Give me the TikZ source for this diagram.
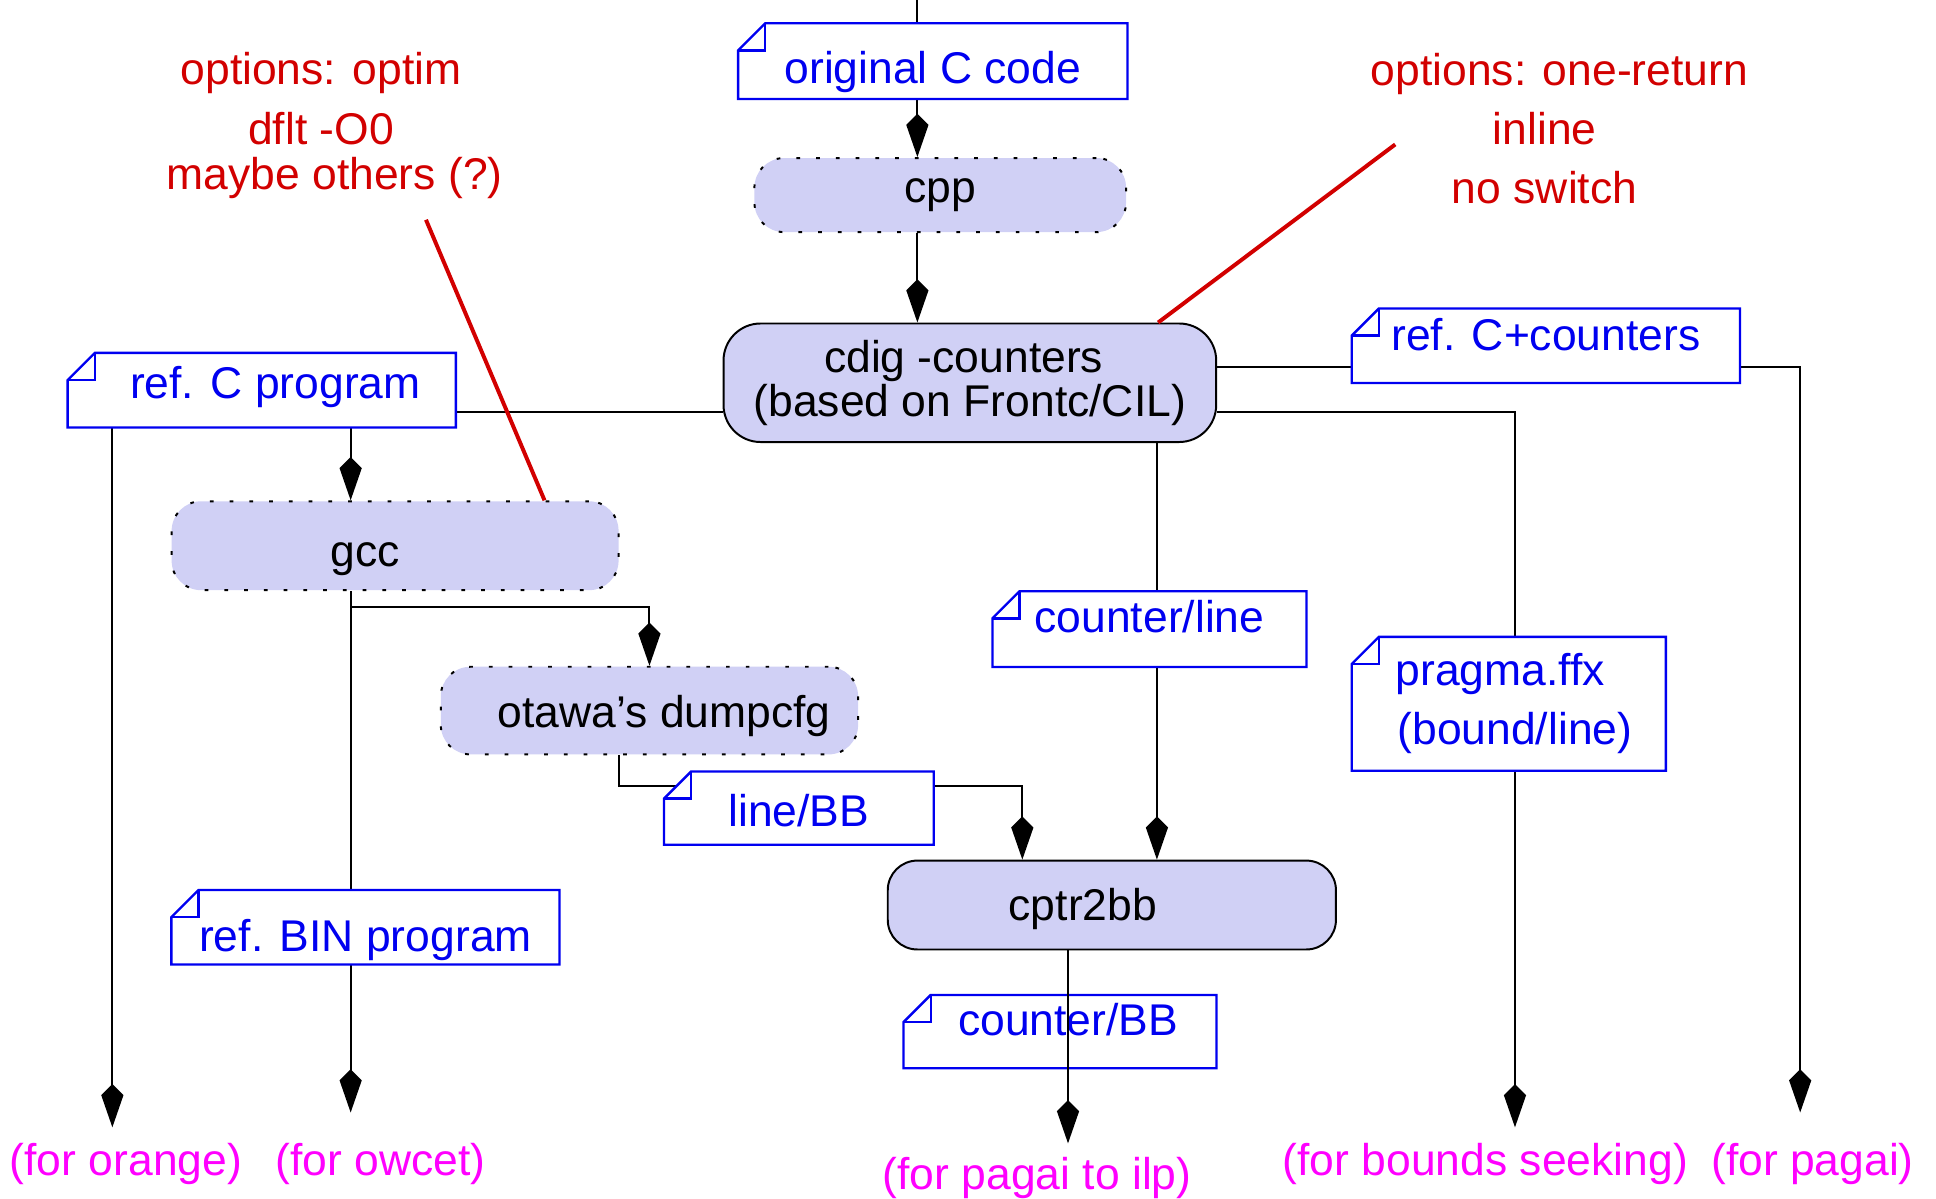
\documentclass[tikz,border=0pt]{standalone}
\usepackage{fontspec}
\setmainfont{Liberation Sans}
\usetikzlibrary{arrows.meta,calc}
\pgfdeclarelayer{wires}
\pgfdeclarelayer{sheets}
\pgfsetlayers{wires,sheets,main}

\definecolor{toolfill}{RGB}{208,208,245}
\definecolor{noteblue}{RGB}{0,0,240}
\definecolor{optred}{RGB}{210,0,0}
\definecolor{usepink}{RGB}{255,0,255}

\tikzset{
  every node/.style={font=\fontsize{36}{48}\selectfont, inner sep=0pt},
  tool/.style={draw=black, line width=1.6pt, fill=toolfill, rounded corners=24pt},
  optool/.style={tool, dash pattern=on 3pt off 13pt},
  sheet/.style={text=noteblue},
  sheetline/.style={draw=noteblue, line width=1.9pt},
  wire/.style={line width=1.6pt},
  flow/.style={wire, -{Kite[length=35pt,width=18pt,inset=9pt]}},
  remark/.style={text=optred, align=center},
  pointer/.style={draw=optred, line width=3.2pt},
  target/.style={text=usepink},
  % move a one-line label down (textdown) or up (textup) inside its frame
  textdown/.style={text height=27pt+2*#1, text depth=8pt},
  textup/.style={text height=27pt, text depth=8pt+2*#1},
}

% document-style outline with a folded top-left corner
\newcommand\drawsheet[1]{%
  \filldraw[sheetline, fill=white]
    ([yshift=-22pt]#1.north west) -- ([xshift=22pt]#1.north west)
    -- (#1.north east) -- (#1.south east) -- (#1.south west) -- cycle;
  \draw[sheetline] ([xshift=22pt]#1.north west) |- ([yshift=-22pt]#1.north west);
}

\begin{document}
\begin{tikzpicture}[x=1pt, y=-1pt]
\useasboundingbox (0,0) rectangle (1568,971);

% tools
\node[optool, minimum width=301pt, minimum height=60pt] (cpp) at (761.5,158) {cpp};
\node[tool, rounded corners=30pt, minimum width=399pt, minimum height=96pt, align=center]
  (cdig) at (785.5,310) {\hspace*{-10pt}cdig -counters\\[-12pt](based on Frontc/CIL)};
\node[optool, textdown=7pt, minimum width=362pt, minimum height=72pt] (gcc) at (320,442) {gcc\hspace*{48pt}};
\node[optool, textdown=4pt, minimum width=338pt, minimum height=71pt] (dump) at (526,575.5) {\hspace*{24pt}otawa’s dumpcfg};
\node[tool, textdown=3pt, minimum width=363pt, minimum height=72pt] (cptr) at (900.5,733) {cptr2bb\hspace*{47pt}};

% artefacts
\node[sheet, textdown=9pt, minimum width=315pt, minimum height=61pt] (orig) at (755.5,49.5) {original C code};
\node[sheet, textup=3pt, minimum width=314pt, minimum height=60pt] (refc) at (212,316) {\hspace*{22pt}ref. C program};
\node[sheet, textdown=5pt, minimum width=218pt, minimum height=59pt] (linebb) at (647,654.5) {line/BB};
\node[sheet, textup=7pt, minimum width=254pt, minimum height=61pt] (cline) at (931,509.5) {counter/line};
\node[sheet, textup=6pt, minimum width=253pt, minimum height=59pt] (cbb) at (858.5,835.5) {\hspace*{13pt}counter/BB};
\node[sheet, textdown=10pt, minimum width=314pt, minimum height=60pt] (refbin) at (296,751) {ref. BIN program};
\node[sheet, textup=6pt, minimum width=314pt, minimum height=60pt] (refcc) at (1252,280) {ref. C+counters};
\node[sheet, minimum width=254pt, minimum height=108pt, align=center]
  (pragma) at (1222,570) {\hspace*{-14pt}pragma.ffx\\\hspace*{10pt}(bound/line)};

% consumers
\node[target] (orange) at (102,943) {(for orange)};
\node[target] (owcet) at (308,943) {(for owcet)};
\node[target] (ilp) at (840,954) {(for pagai to ilp)};
\node[target] (bounds) at (1203,943) {(for bounds seeking)};
\node[target] (pagai) at (1468,943) {(for pagai)};

% option remarks
\node[remark] (optim) at (260,102) {options: optim\\dflt -O0\\[-11pt]\hspace*{22pt}maybe others (?)};
\node[remark] (onereturn) at (1251,104) {\hspace*{24pt}options: one-return\\inline\\no switch};

% columns used by the connectors
\coordinate (src) at (743,0);
\coordinate (orangecol) at (91,0);
\coordinate (gcccol) at (284,0);
\coordinate (clinecol) at (937,0);
\coordinate (ilpcol) at (865,0);
\coordinate (boundscol) at (1227,0);
\coordinate (pagaicol) at (1458,0);
\coordinate (optimend) at (345,178);
\coordinate (optimfoot) at (441,0);
\coordinate (onereturnend) at (1130,117);
\coordinate (onereturnfoot) at (938,0);

\begin{pgfonlayer}{wires}
  \draw[wire] (src) -- (src |- orig.north);
  \draw[flow] (src |- orig.south) -- (src |- cpp.north);
  \draw[flow] (src |- cpp.south) -- (src |- cdig.north);
  \draw[wire] ([yshift=-24pt]cdig.west) -- ([yshift=-24pt]cdig.west -| refc.east);
  \draw[flow, shorten >=13pt] (refc.south -| orangecol) -- (orange.north -| orangecol);
  \draw[flow] (refc.south -| gcccol) -- (gcc.north -| gcccol);
  \draw[wire] (gcc.south -| gcccol) -- (refbin.north -| gcccol);
  \draw[flow, shorten >=25pt] (refbin.south -| gcccol) -- (owcet.north -| gcccol);
  \draw[flow] (gcc.south -| gcccol) -- ++(0,13) -| (dump.north);
  \draw[flow] ([xshift=-25pt]dump.south) -- ++(0,25) -| ([xshift=-72.5pt]cptr.north);
  \draw[flow] (cdig.south -| clinecol) -- (cptr.north -| clinecol);
  \draw[flow, shorten >=25pt] ([yshift=13pt]cdig.east) -| (pagai.north -| pagaicol);
  \draw[flow, shorten >=13pt] ([yshift=-24pt]cdig.east) -| (bounds.north -| boundscol);
\end{pgfonlayer}

\begin{pgfonlayer}{sheets}
  \foreach \s in {orig,refc,linebb,cline,cbb,refbin,refcc,pragma} {\drawsheet{\s}}
\end{pgfonlayer}

% this one runs across its artefact
\draw[flow, shorten >=11pt] (cptr.south -| ilpcol) -- (ilp.north -| ilpcol);

\draw[pointer] (optimend) -- (gcc.north -| optimfoot);
\draw[pointer] (onereturnend) -- (cdig.north -| onereturnfoot);
\end{tikzpicture}
\end{document}
